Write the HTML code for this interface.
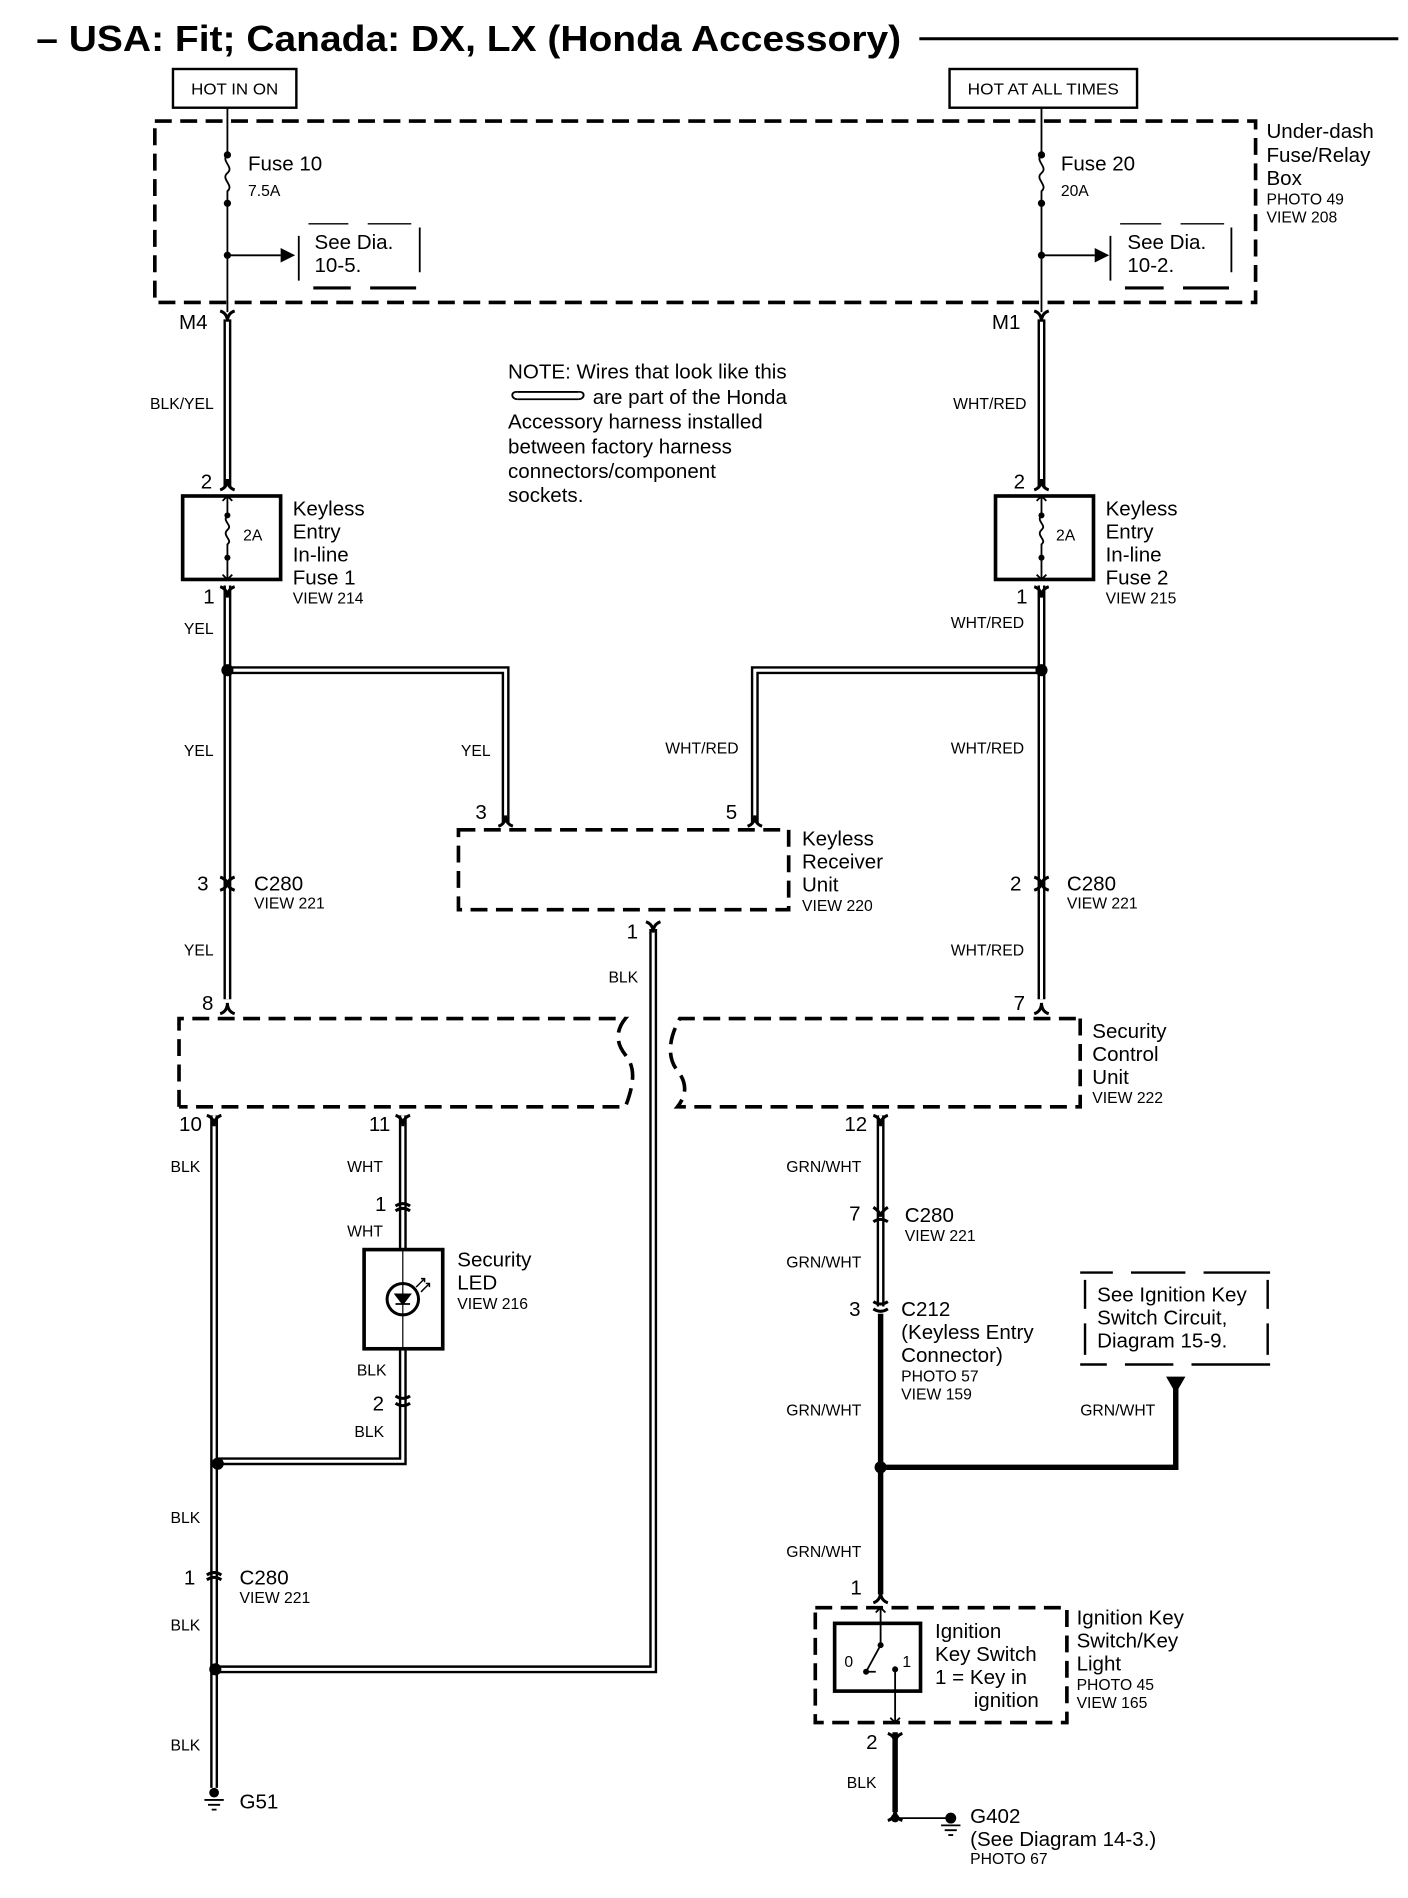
<!DOCTYPE html>
<html><head><meta charset="utf-8"><style>
html,body{margin:0;padding:0;background:#fff;}
svg{display:block;}
text{font-family:"Liberation Sans",Arial,sans-serif;fill:#000;}
.l{font-size:17px;}
.s{font-size:13px;}
</style></head><body>
<svg width="1408" height="1898" viewBox="0 0 1164 1569" xmlns="http://www.w3.org/2000/svg">
<rect width="1164" height="1569" fill="#fff"/>
<!-- title -->
<text x="30" y="42" font-size="30" font-weight="bold" textLength="715" lengthAdjust="spacingAndGlyphs">– USA: Fit; Canada: DX, LX (Honda Accessory)</text>
<line x1="760" y1="32" x2="1156" y2="32" stroke="#000" stroke-width="2.5"/>
<rect x="143" y="57" width="102" height="32" fill="none" stroke="#000" stroke-width="2"/>
<text x="158" y="78" class="s" textLength="72" lengthAdjust="spacingAndGlyphs">HOT IN ON</text>
<rect x="785" y="57" width="155" height="32" fill="none" stroke="#000" stroke-width="2"/>
<text x="800" y="78" class="s" textLength="125" lengthAdjust="spacingAndGlyphs">HOT AT ALL TIMES</text>

<!-- fuse box -->
<rect x="128" y="100" width="910" height="150" fill="none" stroke="#000" stroke-width="3" stroke-dasharray="14,7"/>
<g stroke="#000" stroke-width="1.5" fill="none">
<path d="M188,89 V128 M188,168 V258 M188,128 c-6,5 6,10 0,15 c-6,5 6,10 0,15 V168"/>
<path d="M861,89 V128 M861,168 V258 M861,128 c-6,5 6,10 0,15 c-6,5 6,10 0,15 V168"/>
<path d="M188,211 H232 M861,211 H905"/>
<path d="M247,195 V232 M347,188 V225 M918,195 V232 M1018,188 V225"/>
<path d="M255,185 H288 M304,185 H340 M926,185 H960 M976,185 H1012" stroke-width="1.2"/>
<path d="M259,238 H290 M306,238 H344 M930,238 H962 M978,238 H1016" stroke-width="2.5"/>
</g>
<path d="M232,205 L244,211 L232,217 Z M905,205 L917,211 L905,217 Z"/>
<circle cx="188" cy="128" r="3"/><circle cx="188" cy="168" r="3"/><circle cx="188" cy="211" r="3"/>
<circle cx="861" cy="128" r="3"/><circle cx="861" cy="168" r="3"/><circle cx="861" cy="211" r="3"/>
<text x="205" y="141" class="l">Fuse 10</text><text x="205" y="162" class="s">7.5A</text>
<text x="260" y="206" class="l">See Dia.</text><text x="260" y="225" class="l">10-5.</text>
<text x="877" y="141" class="l">Fuse 20</text><text x="877" y="162" class="s">20A</text>
<text x="932" y="206" class="l">See Dia.</text><text x="932" y="225" class="l">10-2.</text>
<text x="1047" y="114" class="l">Under-dash</text><text x="1047" y="134" class="l">Fuse/Relay</text><text x="1047" y="153" class="l">Box</text>
<text x="1047" y="169" class="s">PHOTO 49</text><text x="1047" y="184" class="s">VIEW 208</text>

<!-- double wires -->
<defs><g id="dw">
<path d="M188,264 V402 M188,484 V826 M188,554 H418 V680 M861,264 V402 M861,484 V826 M861,554 H624 V680 M540,768 V1380 H180 M177,922 V1478 M333,922 V1033 M333,1115 V1208 H180 M728,922 V1080"/>
</g></defs>
<use href="#dw" fill="none" stroke="#000" stroke-width="6.5"/>
<use href="#dw" fill="none" stroke="#fff" stroke-width="2.5"/>

<!-- connectors -->
<g fill="none" stroke="#000" stroke-width="2.5">
<!-- top forks (Y) -->
<path d="M182,257 Q188,259 188,266 Q188,259 194,257"/>
<path d="M855,257 Q861,259 861,266 Q861,259 867,257"/>
<path d="M182,485 Q188,487 188,494 Q188,487 194,485"/>
<path d="M855,485 Q861,487 861,494 Q861,487 867,485"/>
<path d="M534,762 Q540,764 540,771 Q540,764 546,762"/>
<path d="M171,922 Q177,924 177,931 Q177,924 183,922"/>
<path d="M327,922 Q333,924 333,931 Q333,924 339,922"/>
<path d="M722,922 Q728,924 728,931 Q728,924 734,922"/>
<path d="M734,1433 Q740,1435 740,1442 Q740,1435 746,1433"/>
<!-- bottom forks (inverted) -->
<path d="M182,405 Q188,403 188,396 Q188,403 194,405"/>
<path d="M855,405 Q861,403 861,396 Q861,403 867,405"/>
<path d="M182,838 Q188,836 188,829 Q188,836 194,838"/>
<path d="M855,838 Q861,836 861,829 Q861,836 867,838"/>
<path d="M412,683 Q418,681 418,674 Q418,681 424,683"/>
<path d="M618,683 Q624,681 624,674 Q624,681 630,683"/>
<path d="M722,1325 Q728,1323 728,1316 Q728,1323 734,1325"/>
<path d="M734,1505 Q740,1503 740,1496 Q740,1503 746,1505"/>
<!-- inline connectors -->
<path d="M182,725 Q188,727 188,732 Q188,727 194,725 M182,736 Q188,734 188,729 Q188,734 194,736"/>
<path d="M855,725 Q861,727 861,732 Q861,727 867,725 M855,736 Q861,734 861,729 Q861,734 867,736"/>
<path d="M327,997 Q333,993 339,997 M327,1001 Q333,997 339,1001"/>
<path d="M327,1154 Q333,1158 339,1154 M327,1160 Q333,1164 339,1160"/>
<path d="M171,1302 Q177,1298 183,1302 M171,1306 Q177,1302 183,1306"/>
<path d="M722,998 Q728,1002 728,1006 Q728,1002 734,998 M722,1010 Q728,1006 734,1010"/>
<path d="M722,1076 Q728,1080 734,1076 M722,1082 Q728,1086 734,1082"/>
</g>

<!-- fuse boxes -->
<rect x="151" y="410" width="81" height="69" fill="none" stroke="#000" stroke-width="3"/>
<rect x="823" y="410" width="81" height="69" fill="none" stroke="#000" stroke-width="3"/>
<g stroke="#000" stroke-width="1.5" fill="none">
<path d="M188,410 V426 M188,463 V479 M188,426 c-5,5 5,8 0,12 c-5,5 5,8 0,12 V463 M184,414 L188,410 L192,414 M184,475 L188,479 L192,475"/>
<path d="M861,410 V426 M861,463 V479 M861,426 c-5,5 5,8 0,12 c-5,5 5,8 0,12 V463 M857,414 L861,410 L865,414 M857,475 L861,479 L865,475"/>
</g>
<circle cx="188" cy="426" r="2.5"/><circle cx="188" cy="461" r="2.5"/>
<circle cx="861" cy="426" r="2.5"/><circle cx="861" cy="461" r="2.5"/>
<text x="201" y="447" class="s">2A</text><text x="873" y="447" class="s">2A</text>
<text x="166" y="404" class="l">2</text><text x="838" y="404" class="l">2</text>
<text x="148" y="272" class="l">M4</text><text x="820" y="272" class="l">M1</text>
<text x="124" y="338" class="s">BLK/YEL</text><text x="788" y="338" class="s">WHT/RED</text>
<text x="242" y="426" class="l">Keyless</text><text x="242" y="445" class="l">Entry</text><text x="242" y="464" class="l">In-line</text><text x="242" y="483" class="l">Fuse 1</text><text x="242" y="499" class="s">VIEW 214</text>
<text x="914" y="426" class="l">Keyless</text><text x="914" y="445" class="l">Entry</text><text x="914" y="464" class="l">In-line</text><text x="914" y="483" class="l">Fuse 2</text><text x="914" y="499" class="s">VIEW 215</text>
<text x="168" y="499" class="l">1</text><text x="840" y="499" class="l">1</text>
<text x="152" y="524" class="s">YEL</text><text x="786" y="519" class="s">WHT/RED</text>

<!-- note -->
<text x="420" y="313" class="l">NOTE: Wires that look like this</text>
<text x="490" y="334" class="l">are part of the Honda</text>
<text x="420" y="354" class="l">Accessory harness installed</text>
<text x="420" y="375" class="l">between factory harness</text>
<text x="420" y="395" class="l">connectors/component</text>
<text x="420" y="415" class="l">sockets.</text>
<path d="M428,324 H478 M428,330 H478" stroke="#000" stroke-width="1.5"/>
<path d="M428,324 c-6,-1 -6,6 0,6 M478,324 c6,-1 6,6 0,6" stroke="#000" stroke-width="1.5" fill="none"/>

<!-- left/right middle labels -->
<text x="152" y="625" class="s">YEL</text><text x="381" y="625" class="s">YEL</text>
<text x="550" y="623" class="s">WHT/RED</text><text x="786" y="623" class="s">WHT/RED</text>
<text x="393" y="677" class="l">3</text><text x="600" y="677" class="l">5</text>
<rect x="379" y="686" width="273" height="66" fill="none" stroke="#000" stroke-width="3" stroke-dasharray="14,7"/>
<text x="663" y="699" class="l">Keyless</text><text x="663" y="718" class="l">Receiver</text><text x="663" y="737" class="l">Unit</text><text x="663" y="753" class="s">VIEW 220</text>
<text x="518" y="776" class="l">1</text><text x="503" y="812" class="s">BLK</text>
<text x="163" y="736" class="l">3</text><text x="210" y="736" class="l">C280</text><text x="210" y="751" class="s">VIEW 221</text>
<text x="835" y="736" class="l">2</text><text x="882" y="736" class="l">C280</text><text x="882" y="751" class="s">VIEW 221</text>
<text x="152" y="790" class="s">YEL</text><text x="786" y="790" class="s">WHT/RED</text>
<text x="167" y="835" class="l">8</text><text x="838" y="835" class="l">7</text>

<!-- security control unit -->
<g fill="none" stroke="#000" stroke-width="3" stroke-dasharray="14,7">
<path d="M148,915 V842 H517 c-8,10 -8,20 0,30 c8,10 8,22 0,43 H148"/>
<path d="M893,842 V915 H560 c8,-10 8,-20 0,-30 c-8,-10 -8,-25 2,-43 H893"/>
</g>
<text x="903" y="858" class="l">Security</text><text x="903" y="877" class="l">Control</text><text x="903" y="896" class="l">Unit</text><text x="903" y="912" class="s">VIEW 222</text>
<text x="148" y="935" class="l">10</text><text x="305" y="935" class="l">11</text><text x="698" y="935" class="l">12</text>
<text x="141" y="969" class="s">BLK</text><text x="287" y="969" class="s">WHT</text><text x="650" y="969" class="s">GRN/WHT</text>
<text x="310" y="1001" class="l">1</text><text x="287" y="1022" class="s">WHT</text>

<!-- LED -->
<rect x="301" y="1033" width="65" height="82" fill="#fff" stroke="#000" stroke-width="3"/>
<line x1="333" y1="1033" x2="333" y2="1115" stroke="#000" stroke-width="1"/>
<circle cx="333" cy="1074" r="13" fill="none" stroke="#000" stroke-width="2.5"/>
<path d="M327,1070 H339 L333,1078 Z M327,1078 H339" stroke="#000" stroke-width="1.5"/>
<path d="M344,1064 L351,1057 M348,1057 H351 V1060 M348,1068 L355,1061 M352,1061 H355 V1064" stroke="#000" stroke-width="1.2" fill="none"/>
<text x="378" y="1047" class="l">Security</text><text x="378" y="1066" class="l">LED</text><text x="378" y="1082" class="s">VIEW 216</text>
<text x="295" y="1137" class="s">BLK</text><text x="308" y="1166" class="l">2</text><text x="293" y="1188" class="s">BLK</text>
<text x="141" y="1259" class="s">BLK</text>
<text x="152" y="1310" class="l">1</text><text x="198" y="1310" class="l">C280</text><text x="198" y="1325" class="s">VIEW 221</text>
<text x="141" y="1348" class="s">BLK</text><text x="141" y="1447" class="s">BLK</text>
<circle cx="180" cy="554" r="0" />
<circle cx="188" cy="554" r="5"/><circle cx="861" cy="554" r="5"/>
<circle cx="180" cy="1210" r="5"/><circle cx="178" cy="1380" r="5"/>
<!-- G51 -->
<circle cx="177" cy="1482" r="4"/>
<path d="M169,1488 H185 M172,1492 H182 M175,1496 H179" stroke="#000" stroke-width="1.5"/>
<text x="198" y="1495" class="l">G51</text>

<!-- right lower -->
<text x="702" y="1009" class="l">7</text><text x="748" y="1010" class="l">C280</text><text x="748" y="1026" class="s">VIEW 221</text>
<text x="650" y="1048" class="s">GRN/WHT</text>
<text x="702" y="1088" class="l">3</text>
<text x="745" y="1088" class="l">C212</text><text x="745" y="1107" class="l">(Keyless Entry</text><text x="745" y="1126" class="l">Connector)</text>
<text x="745" y="1142" class="s">PHOTO 57</text><text x="745" y="1157" class="s">VIEW 159</text>
<path d="M728,1086 V1318 M728,1213 H972 V1146 M740,1432 V1498" stroke="#000" stroke-width="4.5" fill="none"/>
<path d="M964,1138 H980 L972,1152 Z"/>
<circle cx="728" cy="1213" r="5"/>
<text x="650" y="1170" class="s">GRN/WHT</text><text x="893" y="1170" class="s">GRN/WHT</text>
<g stroke="#000" stroke-width="2" fill="none">
<path d="M897,1058 V1082 M1048,1058 V1082 M897,1094 V1120 M1048,1094 V1120" />
<path d="M893,1052 H920 M935,1052 H980 M995,1052 H1050 M893,1128 H915 M930,1128 H970 M985,1128 H1050" stroke-dasharray="0"/>
</g>
<text x="907" y="1076" class="l">See Ignition Key</text><text x="907" y="1095" class="l">Switch Circuit,</text><text x="907" y="1114" class="l">Diagram 15-9.</text>
<text x="650" y="1287" class="s">GRN/WHT</text>
<text x="703" y="1318" class="l">1</text>
<rect x="674" y="1329" width="208" height="95" fill="none" stroke="#000" stroke-width="3" stroke-dasharray="14,7"/>
<rect x="690" y="1342" width="71" height="56" fill="#fff" stroke="#000" stroke-width="3"/>
<g stroke="#000" stroke-width="1.5" fill="none">
<path d="M728,1329 V1360 M724,1333 L728,1329 L732,1333 M728,1360 L716,1382 M716,1382 H724 M740,1379 V1424 M736,1420 L740,1424 L744,1420"/>
</g>
<circle cx="728" cy="1360" r="2.5"/><circle cx="716" cy="1382" r="2.5"/><circle cx="740" cy="1380" r="2.5"/>
<text x="698" y="1378" class="s">0</text><text x="746" y="1378" class="s">1</text>
<text x="773" y="1354" class="l">Ignition</text><text x="773" y="1373" class="l">Key Switch</text><text x="773" y="1392" class="l">1 = Key in</text><text x="805" y="1411" class="l">ignition</text>
<text x="890" y="1343" class="l">Ignition Key</text><text x="890" y="1362" class="l">Switch/Key</text><text x="890" y="1381" class="l">Light</text>
<text x="890" y="1397" class="s">PHOTO 45</text><text x="890" y="1412" class="s">VIEW 165</text>
<text x="716" y="1446" class="l">2</text><text x="700" y="1478" class="s">BLK</text>
<circle cx="740" cy="1503" r="3.5"/>
<path d="M740,1503 H785" stroke="#000" stroke-width="1.5"/>
<circle cx="786" cy="1503" r="4.5"/>
<path d="M778,1509 H794 M781,1513 H791 M784,1517 H788" stroke="#000" stroke-width="1.5"/>
<text x="802" y="1507" class="l">G402</text><text x="802" y="1526" class="l">(See Diagram 14-3.)</text><text x="802" y="1541" class="s">PHOTO 67</text>
</svg>
</body></html>
